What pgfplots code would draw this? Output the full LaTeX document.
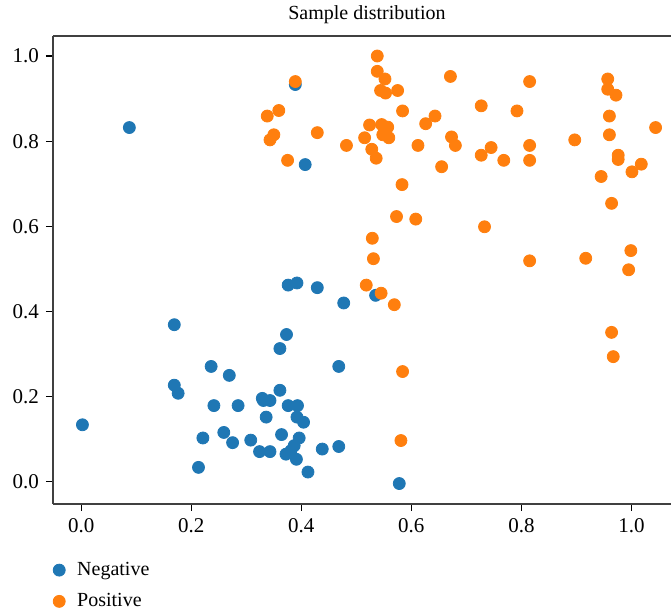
\documentclass[border=0pt]{standalone}
\usepackage{fontspec}
\setmainfont{Liberation Serif}
\usepackage{pgfplots}
\pgfplotsset{compat=1.18}
\definecolor{tabblue}{HTML}{1F77B4}
\definecolor{taborange}{HTML}{FF7F0E}

\begin{document}
\begin{tikzpicture}
\begin{axis}[
  name=ax, at={(0,0)}, anchor=south west,
  scale only axis, width=309pt, height=234pt,
  xmin=-0.0515, xmax=1.072, ymin=-0.052, ymax=1.047,
  axis x line*=box, axis y line*=left,
  axis line style={line width=0.6pt, black!75},
  xtick={0,0.2,...,1.0}, ytick={0,0.2,...,1.0},
  tick align=outside, major tick length=3.5pt,
  tick style={line width=0.6pt, black},
  xtick pos=bottom, ytick pos=left,
  /pgf/number format/.cd, fixed, fixed zerofill, precision=1, assume math mode=true,
  /pgfplots/.cd,
  tick label style={font=\fontsize{10.5}{12}\selectfont},
  title={Sample distribution},
  title style={at={(0.508,1)}, anchor=south, yshift=-3.5pt, font=\fontsize{10}{12}\selectfont},
  legend style={at={(-0.01,-0.106)}, anchor=north west, draw=none, fill=none,
    font=\fontsize{10}{12}\selectfont, row sep=3.5pt, column sep=4pt},
  legend cell align=left,
]
\addplot[only marks, mark=*, mark size=3pt, mark options={draw=tabblue, fill=tabblue}] coordinates {
(0.0873,0.832) (0.389,0.933) (0.407,0.745) (0.535,0.438) (0.477,0.420)
(0.468,0.271) (0.468,0.083) (0.578,-0.004)
(0.376,0.462) (0.392,0.467) (0.429,0.456) (0.169,0.369) (0.373,0.346)
(0.361,0.313) (0.236,0.271) (0.269,0.250) (0.169,0.227) (0.176,0.208)
(0.361,0.215) (0.329,0.196) (0.331,0.191) (0.343,0.191) (0.241,0.179)
(0.285,0.179) (0.376,0.179) (0.393,0.179) (0.336,0.152) (0.392,0.152)
(0.404,0.140) (0.002,0.134) (0.259,0.116) (0.221,0.103) (0.275,0.092)
(0.308,0.098) (0.364,0.111) (0.396,0.103) (0.387,0.085) (0.438,0.077)
(0.324,0.071) (0.343,0.071) (0.372,0.065) (0.381,0.073) (0.391,0.053)
(0.213,0.034) (0.412,0.023)
};
\addlegendentry{Negative}
\addplot[only marks, mark=*, mark size=3pt, mark options={draw=taborange, fill=taborange}] coordinates {
(0.389,0.940) (0.338,0.859) (0.359,0.872) (0.350,0.815) (0.343,0.803)
(0.375,0.755) (0.429,0.820) (0.482,0.790) (0.538,1.000) (0.538,0.964)
(0.552,0.946) (0.544,0.919) (0.553,0.913) (0.575,0.919) (0.671,0.952)
(0.815,0.940) (0.957,0.946) (0.957,0.922) (0.972,0.908) (0.584,0.871)
(0.727,0.883) (0.792,0.871) (0.960,0.859) (1.044,0.832) (0.524,0.838)
(0.546,0.839) (0.557,0.833) (0.548,0.815) (0.559,0.808) (0.515,0.808)
(0.528,0.781) (0.536,0.760) (0.612,0.790) (0.626,0.841) (0.643,0.859)
(0.673,0.810) (0.680,0.790) (0.655,0.740) (0.727,0.767) (0.745,0.785)
(0.768,0.755) (0.815,0.790) (0.815,0.755) (0.897,0.803) (0.960,0.815)
(0.976,0.767) (0.976,0.757) (1.018,0.746) (1.001,0.728) (0.945,0.717)
(0.964,0.654) (0.583,0.698) (0.573,0.623) (0.608,0.617) (0.733,0.599)
(0.529,0.572) (0.531,0.524) (0.815,0.519) (0.917,0.525) (0.999,0.543)
(0.995,0.498) (0.518,0.462) (0.545,0.443) (0.569,0.416) (0.964,0.351)
(0.967,0.294) (0.584,0.259) (0.581,0.097)
};
\addlegendentry{Positive}
\end{axis}
\pgfresetboundingbox
\path[use as bounding box] ([shift={(-26.5pt,-55pt)}]ax.south west) rectangle ([shift={(309pt,252pt)}]ax.south west);
\end{tikzpicture}
\end{document}
